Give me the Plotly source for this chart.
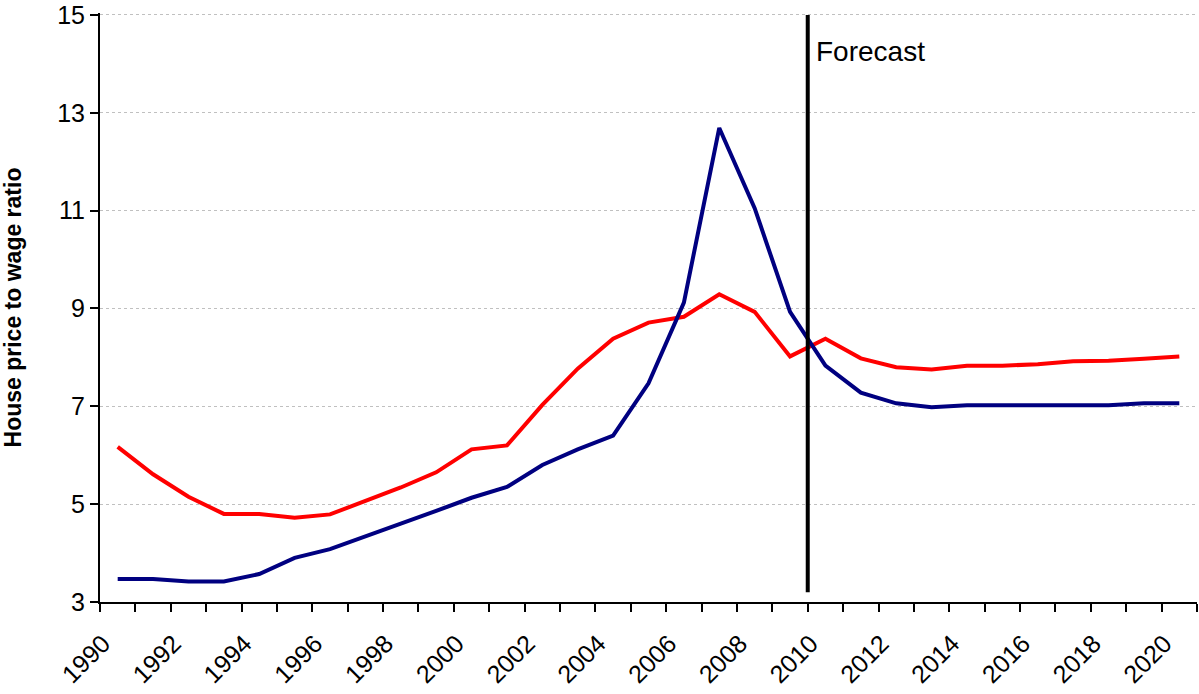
import plotly.graph_objects as go

years = list(range(1990, 2021))
blue_ratio = [3.47, 3.47, 3.42, 3.42, 3.57, 3.90, 4.08, 4.33, 4.60, 4.86,
              5.13, 5.35, 5.80, 6.12, 6.40, 7.47, 9.12, 12.69, 11.05, 8.93,
              7.83, 7.28, 7.06, 6.98, 7.02, 7.02, 7.02, 7.02, 7.02, 7.06, 7.06]
red_ratio = [6.17, 5.61, 5.15, 4.80, 4.80, 4.72, 4.79, 5.07, 5.34, 5.65,
             6.12, 6.20, 7.03, 7.77, 8.38, 8.71, 8.83, 9.29, 8.93, 8.02,
             8.38, 7.98, 7.80, 7.75, 7.83, 7.83, 7.86, 7.92, 7.93, 7.97, 8.02]
forecast_start = 2010
y_ticks = [3, 5, 7, 9, 11, 13, 15]

FONT = "Liberation Sans, Arial, sans-serif"

# category centres sit half a year to the right of the labelled boundary ticks
x_centres = [y + 0.5 for y in years]
tick_pos = [y for y in years] + [years[-1] + 1]
tick_txt = [str(y) if y % 2 == 0 else "" for y in tick_pos]

fig = go.Figure()
fig.add_trace(go.Scatter(x=x_centres, y=red_ratio, mode="lines",
                         line=dict(color="#FF0000", width=4), showlegend=False))
fig.add_trace(go.Scatter(x=x_centres, y=blue_ratio, mode="lines",
                         line=dict(color="#000080", width=4), showlegend=False))

fig.add_shape(type="line", xref="x", yref="y", x0=forecast_start, x1=forecast_start,
              y0=3.2, y1=15, line=dict(color="black", width=4))
fig.add_annotation(x=forecast_start, y=14.25, xref="x", yref="y", text="Forecast",
                   showarrow=False, xanchor="left", yanchor="middle", xshift=6,
                   font=dict(family=FONT, size=28, color="black"))

fig.update_layout(
    width=1199, height=694,
    margin=dict(l=100, r=2, t=13, b=92, autoexpand=False),
    paper_bgcolor="white", plot_bgcolor="white",
    font=dict(family=FONT, size=25, color="black"),
    xaxis=dict(range=[years[0], years[-1] + 1], tickmode="array",
               tickvals=tick_pos, ticktext=tick_txt, tickangle=-45,
               showgrid=False, zeroline=False, showline=True, linecolor="black",
               linewidth=2, ticks="outside", ticklen=8, tickwidth=2, tickcolor="black",
               tickfont=dict(family=FONT, size=25), automargin=False,
               ticklabelstandoff=7, ticklabelshift=3, ticklabeloverflow="allow"),
    yaxis=dict(range=[2.999, 15.04], tickmode="array", tickvals=y_ticks,
               showgrid=True, gridcolor="#c0c0c0", griddash="dot", gridwidth=1,
               zeroline=False, showline=True, linecolor="black", linewidth=2,
               ticks="outside", ticklen=8, tickwidth=2, tickcolor="black",
               tickfont=dict(family=FONT, size=25), automargin=False,
               ticklabeloverflow="allow",
               title=dict(text="House price to wage ratio", standoff=30,
                          font=dict(family=FONT, size=23, color="black", weight="bold"))),
)

# remove the browser's default 8px body margin so the figure fills the window exactly
fig.write_html("out.html", config={"displayModeBar": False},
               post_script="document.body.style.margin='0';")
